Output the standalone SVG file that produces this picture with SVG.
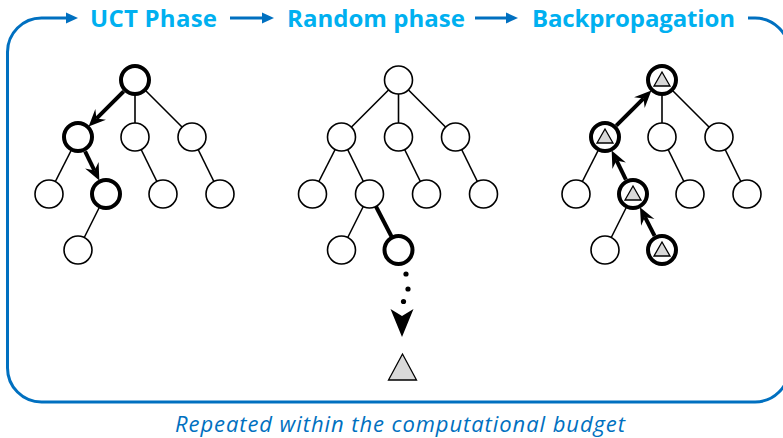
<svg xmlns="http://www.w3.org/2000/svg" width="783" height="438" viewBox="0 0 783 438">
  <style>
    .title { font-family: "Open Sans", "Liberation Sans", sans-serif; font-weight: bold; font-size: 24px; fill: #00B0F0; }
    .caption { font-family: "Open Sans", "Liberation Sans", sans-serif; font-style: italic; font-size: 22px; fill: #0070C0; }
    .loop { fill: none; stroke: #0070C0; stroke-width: 3; }
    .loophead { fill: #0070C0; }
    .edge { stroke: #000; stroke-width: 1.6; fill: none; }
    .bold { stroke: #000; stroke-width: 4; fill: none; }
    .arrow { stroke: #000; stroke-width: 4; fill: none; marker-end: url(#head); }
    .node { fill: #fff; stroke: #000; stroke-width: 1.6; }
    .hot { fill: #fff; stroke: #000; stroke-width: 4; }
    .leaf { fill: #d9d9d9; stroke: #000; stroke-width: 1.3; stroke-linejoin: miter; }
  </style>
  <defs>
    <marker id="head" markerUnits="userSpaceOnUse" markerWidth="22" markerHeight="22" viewBox="-8 -11 22 22" refX="0" refY="0" orient="auto">
      <path d="M11,0 L-6,-7.5 L0,0 L-6,7.5 Z" fill="#000"/>
    </marker>
  </defs>

  <!-- cycle frame and phase titles -->
  <g id="cycle">
    <path class="loop" d="M748,18 L755,18 A34,34 0 0 1 789,52 L789,368 A34,34 0 0 1 755,402 L41.5,402 A34,34 0 0 1 7.5,368 L7.5,52 A34,34 0 0 1 41.5,18 L68,18"/>
    <polygon class="loophead" points="78,18 66,12.5 66,23.5"/>
    <line class="loop" x1="230" y1="18" x2="264" y2="18"/>
    <polygon class="loophead" points="274,18 262,12.5 262,23.5"/>
    <line class="loop" x1="475" y1="18" x2="508" y2="18"/>
    <polygon class="loophead" points="518,18 506,12.5 506,23.5"/>
    <text class="title" x="90" y="26.5" textLength="127">UCT Phase</text>
    <text class="title" x="287" y="26.5" textLength="178">Random phase</text>
    <text class="title" x="532" y="26.5" textLength="203">Backpropagation</text>
    <text class="caption" x="175" y="432" textLength="450">Repeated within the computational budget</text>
  </g>

  <!-- tree edges -->
  <g id="connectors">
    <!-- selection tree -->
    <line class="edge" x1="135" y1="80" x2="135" y2="137"/>
    <line class="edge" x1="135" y1="80" x2="192" y2="137"/>
    <line class="edge" x1="78" y1="137" x2="49" y2="194"/>
    <line class="edge" x1="135" y1="137" x2="163" y2="194"/>
    <line class="edge" x1="192" y1="137" x2="220" y2="194"/>
    <line class="edge" x1="106" y1="194" x2="78" y2="250"/>
    <line class="arrow" x1="123.7" y1="91.3" x2="96.4" y2="118.6"/>
    <line class="arrow" x1="85.1" y1="151.4" x2="94.5" y2="170.6"/>

    <!-- rollout tree -->
    <line class="edge" x1="398.5" y1="80" x2="341.5" y2="137"/>
    <line class="edge" x1="398.5" y1="80" x2="398.5" y2="137"/>
    <line class="edge" x1="398.5" y1="80" x2="455.5" y2="137"/>
    <line class="edge" x1="341.5" y1="137" x2="312.5" y2="194"/>
    <line class="edge" x1="341.5" y1="137" x2="369.5" y2="194"/>
    <line class="edge" x1="398.5" y1="137" x2="426.5" y2="194"/>
    <line class="edge" x1="455.5" y1="137" x2="483.5" y2="194"/>
    <line class="edge" x1="369.5" y1="194" x2="341.5" y2="250"/>
    <line class="bold" x1="369.5" y1="194" x2="398.5" y2="250"/>
    <g id="rollout-path">
      <circle cx="406" cy="274" r="2.6"/>
      <circle cx="408" cy="289" r="2.6"/>
      <circle cx="403.5" cy="301.5" r="2.6"/>
      <polygon points="402,337 390.5,309 402,316 413.5,309"/>
    </g>

    <!-- backup tree -->
    <line class="edge" x1="662" y1="80" x2="662" y2="137"/>
    <line class="edge" x1="662" y1="80" x2="719" y2="137"/>
    <line class="edge" x1="605" y1="137" x2="576" y2="194"/>
    <line class="edge" x1="662" y1="137" x2="690" y2="194"/>
    <line class="edge" x1="719" y1="137" x2="747" y2="194"/>
    <line class="edge" x1="633" y1="194" x2="605" y2="250"/>
    <line class="arrow" x1="654.6" y1="235.8" x2="645" y2="217.1"/>
    <line class="arrow" x1="625.9" y1="179.6" x2="616.5" y2="160.4"/>
    <line class="arrow" x1="616.3" y1="125.7" x2="643.6" y2="98.4"/>
  </g>

  <!-- selection tree nodes -->
  <g id="s-root"><circle class="hot" cx="135" cy="80" r="14"/></g>
  <g id="s-a"><circle class="hot" cx="78" cy="137" r="14"/></g>
  <g id="s-b"><circle class="node" cx="135" cy="137" r="14"/></g>
  <g id="s-c"><circle class="node" cx="192" cy="137" r="14"/></g>
  <g id="s-a1"><circle class="node" cx="49" cy="194" r="14"/></g>
  <g id="s-a2"><circle class="hot" cx="106" cy="194" r="14"/></g>
  <g id="s-b1"><circle class="node" cx="163" cy="194" r="14"/></g>
  <g id="s-c1"><circle class="node" cx="220" cy="194" r="14"/></g>
  <g id="s-x1"><circle class="node" cx="78" cy="250" r="14"/></g>

  <!-- rollout tree nodes -->
  <g id="r-root"><circle class="node" cx="398.5" cy="80" r="14"/></g>
  <g id="r-a"><circle class="node" cx="341.5" cy="137" r="14"/></g>
  <g id="r-b"><circle class="node" cx="398.5" cy="137" r="14"/></g>
  <g id="r-c"><circle class="node" cx="455.5" cy="137" r="14"/></g>
  <g id="r-a1"><circle class="node" cx="312.5" cy="194" r="14"/></g>
  <g id="r-a2"><circle class="node" cx="369.5" cy="194" r="14"/></g>
  <g id="r-b1"><circle class="node" cx="426.5" cy="194" r="14"/></g>
  <g id="r-c1"><circle class="node" cx="483.5" cy="194" r="14"/></g>
  <g id="r-x1"><circle class="node" cx="341.5" cy="250" r="14"/></g>
  <g id="r-x2"><circle class="hot" cx="398.5" cy="250" r="14"/></g>
  <g id="r-terminal"><polygon class="leaf" points="402.5,354 388.5,380 416.5,380"/></g>

  <!-- backup tree nodes -->
  <g id="b-root"><circle class="hot" cx="662" cy="80" r="14"/><polygon class="leaf" points="662,72 654,86 670,86"/></g>
  <g id="b-a"><circle class="hot" cx="605" cy="137" r="14"/><polygon class="leaf" points="605,129 597,143 613,143"/></g>
  <g id="b-b"><circle class="node" cx="662" cy="137" r="14"/></g>
  <g id="b-c"><circle class="node" cx="719" cy="137" r="14"/></g>
  <g id="b-a1"><circle class="node" cx="576" cy="194" r="14"/></g>
  <g id="b-a2"><circle class="hot" cx="633" cy="194" r="14"/><polygon class="leaf" points="633,186 625,200 641,200"/></g>
  <g id="b-b1"><circle class="node" cx="690" cy="194" r="14"/></g>
  <g id="b-c1"><circle class="node" cx="747" cy="194" r="14"/></g>
  <g id="b-x1"><circle class="node" cx="605" cy="250" r="14"/></g>
  <g id="b-x2"><circle class="hot" cx="662" cy="250" r="14"/><polygon class="leaf" points="662,242 654,256 670,256"/></g>
</svg>
